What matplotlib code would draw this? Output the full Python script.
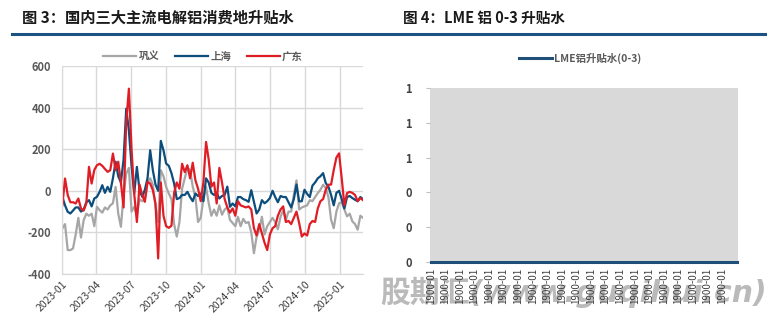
import numpy as np
import pandas as pd
import matplotlib
matplotlib.use('Agg')
from matplotlib import pyplot as plt
import matplotlib.dates as mdates
from matplotlib.lines import Line2D

plt.rcParams['font.family'] = ['Noto Sans CJK SC', 'DejaVu Sans']
plt.rcParams['axes.unicode_minus'] = False

# 图3 数据：周度升贴水（元/吨）
dates = pd.date_range('2023-01-02', periods=114, freq='W-MON')

gongyi = [-181, -160, -285, -285, -277, -210, -130, -225, -141, -110,
          -120, -110, -170, -77, -93, -105, -80, -90, -70, -60,
          19, -110, -173, -20, 83, 110, -100, -77, -120, -40,
          -50, -40, 40, 60, 30, -77, -150, 99, 70, 19,
          -13, -40, -160, -220, -150, 10, 60, 110, 100, 20,
          -30, -150, -130, -40, 20, -60, -120, -90, -120, -70,
          -115, -90, -80, -140, -155, -170, -125, -170, -135, -155,
          -150, -200, -300, -221, -189, -125, -210, -170, -150, -130,
          -150, -185, -125, -93, -140, -100, -100, -20, 50, -90,
          -80, -75, -70, -45, -50, -30, -11, 5, 29, 13,
          -30, -139, -180, -100, -60, -55, -90, -123, -110, -147,
          -160, -187, -120, -130]

shanghai = [-29, -70, -101, -109, -95, -80, -80, -100, -90, -55,
            -45, -75, -37, -29, -5, 27, -10, 19, -5, 60,
            140, 70, 40, 150, 395, 290, 120, -13, 115, 3,
            -29, 5, 60, 195, 99, 30, 0, 240, 195, 131,
            120, 85, 35, -40, -35, -20, -20, -5, -30, -50,
            -13, -25, -13, -50, 60, 40, -10, -20, -10, -37,
            -25, -20, 20, -77, -61, -75, -30, -30, -40, -45,
            -53, 3, -53, -109, -90, -45, -60, -50, -35, 0,
            -30, -55, -25, -30, -30, -55, -80, -40, 30, -51,
            -50, 5, -15, -30, 25, 40, 60, 70, 85, 37,
            20, -20, -70, -10, 0, -40, -85, -30, -25, -35,
            -43, -50, -30, -40]

guangdong = [-69, 59, -20, -55, -55, -61, -37, -85, -95, -60,
             115, 35, 100, 123, 130, 120, 105, 91, 99, 179,
             99, 140, 40, -80, 330, 491, 200, -13, -150, 30,
             -20, -53, 43, 35, 3, -60, -325, 40, -120, -170,
             -178, -168, -10, 40, 10, 130, 90, 123, 60, 135,
             51, 10, -50, 40, 235, 150, 20, 40, -61, 110,
             40, -40, -80, -105, -85, -120, -50, -70, -75, -80,
             -75, -90, -180, -215, -160, -205, -250, -285, -210, -180,
             -170, -120, -90, -75, -150, -145, -160, -130, -100, -155,
             -220, -205, -215, -160, -145, -150, -85, -50, -40, 5,
             29, 30, 100, 160, 180, 60, -70, -11, -5, -10,
             -20, -50, -35, -45]

# 图4 数据：LME 铝 0-3（无有效数据）
lme_labels = ['1900-01'] * 21
lme_values = [0] * 22

fig = plt.figure(figsize=(7.78, 3.24), dpi=100)

# 标题
fig.text(22 / 778, 1 - 18 / 324, '图 3：国内三大主流电解铝消费地升贴水', fontsize=11,
         fontweight='bold', color='#1a1a1a', va='center', ha='left')
fig.text(403 / 778, 1 - 18 / 324, '图 4：LME 铝 0-3 升贴水', fontsize=10.5,
         fontweight='bold', color='#1a1a1a', va='center', ha='left')
fig.add_artist(Line2D([12 / 778, 765 / 778], [1 - 34 / 324, 1 - 34 / 324],
                      color='#1b5282', linewidth=2.2, transform=fig.transFigure))

# 左图
ax = fig.add_axes([62 / 778, 1 - 274 / 324, 301 / 778, 208 / 324])
ax.plot(dates, gongyi, color='#a6a6a6', linewidth=1.6, label='巩义')
ax.plot(dates, shanghai, color='#0c4d7c', linewidth=1.6, label='上海')
ax.plot(dates, guangdong, color='#e01d25', linewidth=1.6, label='广东')
ax.set_ylim(-400, 600)
ax.set_yticks(range(-400, 601, 200))
ax.set_xlim(pd.Timestamp('2023-01-01'), dates[-1])
ax.xaxis.set_major_locator(mdates.MonthLocator(bymonth=[1, 4, 7, 10]))
ax.xaxis.set_major_formatter(mdates.DateFormatter('%Y-%m'))
ax.grid(True, color='#d9d9d9', linewidth=1)
ax.set_axisbelow(True)
for s in ['top', 'right']:
    ax.spines[s].set_visible(False)
for s in ['left', 'bottom']:
    ax.spines[s].set_color('#d9d9d9')
ax.tick_params(axis='both', length=0)
ax.tick_params(axis='y', labelsize=8, labelcolor='#595959', pad=8)
ax.tick_params(axis='x', labelsize=7.5, labelcolor='#404040', pad=4)
for lab in ax.get_yticklabels():
    lab.set_fontweight('bold')
for lab in ax.get_xticklabels():
    lab.set_rotation(45)
    lab.set_ha('right')
    lab.set_rotation_mode('anchor')
ax.legend(loc='center', bbox_to_anchor=(203 / 778, 1 - 57 / 324), bbox_transform=fig.transFigure,
          ncol=3, frameon=False, handlelength=3.2, handletextpad=0.2,
          columnspacing=1.5, labelcolor='#595959', prop={'weight': 'bold', 'size': 7.5})

# 右图
ax2 = fig.add_axes([430 / 778, 1 - 262 / 324, 308 / 778, 174 / 324])
ax2.set_facecolor('#d9d9d9')
ax2.plot(range(len(lme_values)), lme_values, color='#1f4e79', linewidth=2.2,
         label='LME铝升贴水(0-3)', clip_on=False)
ax2.set_xlim(-0.05, 21.1)
ax2.set_ylim(0, 1)
ax2.set_yticks(np.linspace(0, 1, 6))
ax2.set_yticklabels(['%.0f' % v for v in np.linspace(0, 1, 6)])
ax2.set_xticks(range(len(lme_labels)))
ax2.set_xticklabels(lme_labels, rotation=90, fontsize=7, color='#404040')
for s in ax2.spines.values():
    s.set_visible(False)
ax2.tick_params(axis='x', length=0, pad=4)
ax2.tick_params(axis='y', length=3, color='#bfbfbf', labelsize=8, labelcolor='#404040', pad=10)
for lab in ax2.get_yticklabels():
    lab.set_fontweight('bold')
ax2.legend(loc='center', bbox_to_anchor=(580 / 778, 1 - 58 / 324), bbox_transform=fig.transFigure,
           frameon=False, handlelength=3.2, handletextpad=0.2, labelcolor='#595959',
           prop={'weight': 'bold', 'size': 7.5})

# 水印
fig.text(574 / 778, 1 - 292 / 324, '股期汇(www.guqihui.cn)', fontsize=21.5,
         fontweight='bold', style='italic', color='#b3b3b3', alpha=0.9,
         family=['DejaVu Sans', 'Noto Sans CJK SC'], ha='center', va='center', zorder=-1)

fig.savefig('out.png', dpi=100)
